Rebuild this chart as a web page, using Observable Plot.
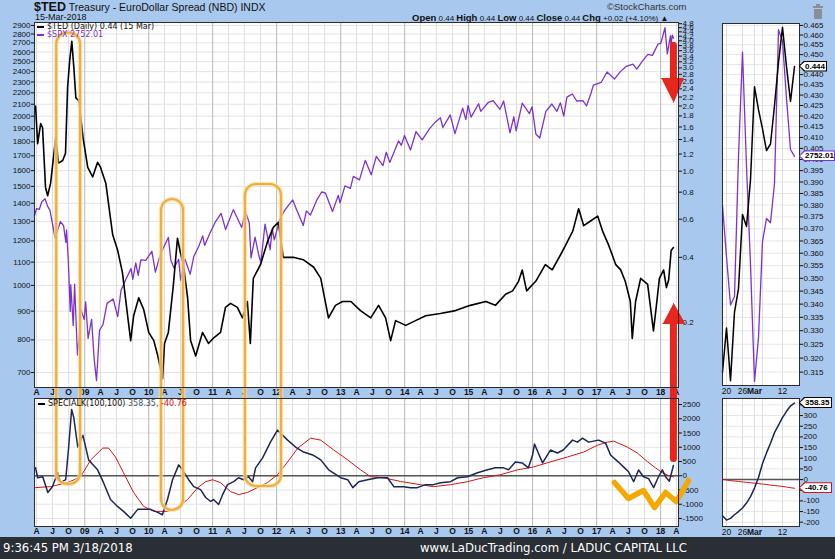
<!DOCTYPE html>
<html><head><meta charset="utf-8">
<script src="https://cdn.jsdelivr.net/npm/d3@7"></script>
<script src="https://cdn.jsdelivr.net/npm/@observablehq/plot@0.6"></script>
<style>
body{margin:0;background:#a9c8ee;}
#root{position:relative;width:835px;height:559px;background:#a9c8ee;overflow:hidden;font-family:"Liberation Sans",Arial,sans-serif;color:#111;}
#root svg{position:absolute;left:0;overflow:hidden;background:transparent;}
.abs{position:absolute;white-space:nowrap;}
.leg{font-family:"DejaVu Sans",Verdana,sans-serif;font-size:8px;}
.dash{display:inline-block;width:7px;height:2px;vertical-align:middle;margin-right:3px;}
.tag{position:absolute;left:799px;height:11px;clip-path:polygon(0 50%,5px 0,100% 0,100% 100%,5px 100%);}
.tag span{position:absolute;left:1px;top:1px;right:1px;bottom:1px;background:#fff;clip-path:polygon(0 50%,5px 0,100% 0,100% 100%,5px 100%);font:bold 8px "Liberation Sans",Arial,sans-serif;line-height:9px;padding-left:5px;color:#000;white-space:nowrap;}
#footer{position:absolute;left:0;top:537px;width:835px;height:22px;background:#2a2e35;color:#fff;font-family:"Liberation Sans Narrow","DejaVu Sans Condensed",Arial,sans-serif;}
</style></head><body><div id="root"></div>
<script>
const parse = d3.utcParse("%Y-%m-%d");

// ---------- data ----------
const tedName = "$TED", tedLast = 0.44, spxLast = 2752.01, kLast = 358.35, sigLast = -40.76;

const ted = [["2008-03-26",2.00],["2008-04-07",1.34],["2008-04-24",1.66],["2008-05-05",1.59],["2008-05-22",0.84],["2008-06-03",0.77],["2008-06-20",0.88],["2008-07-19",1.43],["2008-08-04",1.09],["2008-08-28",1.12],["2008-09-13",1.21],["2008-09-25",2.44],["2008-10-07",3.25],["2008-10-19",3.98],["2008-10-31",2.98],["2008-11-11",2.18],["2008-11-29",2.11],["2008-12-22",1.43],["2009-01-18",1.04],["2009-02-15",0.94],["2009-03-15",1.10],["2009-04-01",1.04],["2009-05-01",0.88],["2009-06-09",0.51],["2009-07-08",0.43],["2009-08-04",0.34],["2009-09-01",0.22],["2009-09-20",0.165],["2009-10-07",0.215],["2009-11-05",0.26],["2009-12-03",0.23],["2010-01-01",0.18],["2010-01-30",0.165],["2010-02-22",0.14],["2010-03-21",0.11],["2010-04-01",0.16],["2010-04-23",0.18],["2010-05-22",0.30],["2010-06-14",0.49],["2010-07-01",0.42],["2010-07-18",0.37],["2010-08-11",0.26],["2010-08-28",0.165],["2010-09-26",0.14],["2010-11-04",0.18],["2010-12-08",0.16],["2011-01-07",0.17],["2011-02-15",0.18],["2011-03-15",0.235],["2011-04-13",0.245],["2011-05-22",0.235],["2011-06-20",0.21],["2011-07-18",0.25],["2011-08-04",0.16],["2011-08-21",0.32],["2011-10-01",0.37],["2011-11-09",0.47],["2011-12-13",0.55],["2012-01-11",0.58],["2012-02-08",0.40],["2012-04-05",0.40],["2012-06-01",0.39],["2012-07-31",0.36],["2012-09-09",0.32],["2012-10-23",0.21],["2012-12-02",0.24],["2013-01-11",0.25],["2013-02-28",0.25],["2013-04-24",0.227],["2013-06-21",0.21],["2013-08-05",0.24],["2013-09-14",0.21],["2013-10-13",0.165],["2013-11-10",0.204],["2014-01-07",0.194],["2014-03-04",0.204],["2014-05-01",0.215],["2014-07-24",0.22],["2014-10-18",0.227],["2015-01-11",0.24],["2015-04-09",0.25],["2015-06-03",0.24],["2015-07-31",0.27],["2015-09-09",0.28],["2015-10-13",0.31],["2015-11-03",0.35],["2015-11-28",0.28],["2016-01-19",0.31],["2016-03-14",0.37],["2016-04-22",0.35],["2016-06-08",0.41],["2016-07-07",0.454],["2016-08-18",0.53],["2016-09-20",0.67],["2016-10-19",0.56],["2016-11-29",0.59],["2017-01-07",0.62],["2017-02-03",0.53],["2017-03-11",0.454],["2017-04-20",0.37],["2017-05-18",0.35],["2017-06-13",0.31],["2017-07-12",0.25],["2017-07-23",0.169],["2017-08-11",0.25],["2017-09-09",0.32],["2017-10-19",0.30],["2017-11-21",0.183],["2017-12-08",0.24],["2017-12-25",0.32],["2018-01-18",0.35],["2018-02-03",0.29],["2018-02-16",0.315],["2018-03-02",0.43],["2018-03-15",0.444]];

const spx = [["2008-03-20",1330],["2008-04-01",1370],["2008-04-16",1365],["2008-05-01",1409],["2008-05-19",1426],["2008-06-02",1385],["2008-06-16",1360],["2008-07-01",1285],["2008-07-15",1215],["2008-08-01",1260],["2008-08-15",1298],["2008-09-02",1277],["2008-09-15",1193],["2008-09-19",1255],["2008-09-29",1106],["2008-10-10",899],["2008-10-13",1003],["2008-10-27",848],["2008-11-04",1005],["2008-11-20",752],["2008-12-01",816],["2008-12-08",909],["2008-12-29",870],["2009-01-06",935],["2009-01-20",805],["2009-02-09",870],["2009-02-23",743],["2009-03-09",677],["2009-03-26",832],["2009-04-15",852],["2009-05-08",929],["2009-06-12",946],["2009-07-08",880],["2009-07-27",980],["2009-08-25",1028],["2009-09-22",1071],["2009-10-02",1025],["2009-10-19",1097],["2009-11-02",1042],["2009-11-17",1110],["2009-12-15",1108],["2010-01-19",1150],["2010-02-08",1056],["2010-03-01",1115],["2010-03-25",1165],["2010-04-23",1217],["2010-05-07",1110],["2010-05-25",1074],["2010-06-21",1113],["2010-07-02",1022],["2010-07-26",1115],["2010-08-26",1047],["2010-09-15",1125],["2010-10-15",1176],["2010-11-05",1225],["2010-11-16",1178],["2010-12-15",1236],["2011-01-14",1293],["2011-02-18",1343],["2011-03-16",1257],["2011-04-29",1364],["2011-05-16",1329],["2011-06-16",1268],["2011-07-07",1353],["2011-07-29",1292],["2011-08-08",1119],["2011-08-31",1219],["2011-09-22",1129],["2011-10-03",1099],["2011-10-27",1285],["2011-11-25",1158],["2011-12-07",1261],["2011-12-19",1205],["2012-01-20",1315],["2012-02-17",1361],["2012-04-02",1419],["2012-04-23",1366],["2012-06-01",1278],["2012-06-19",1357],["2012-07-12",1334],["2012-08-17",1418],["2012-09-14",1466],["2012-10-05",1461],["2012-11-15",1353],["2012-12-18",1446],["2012-12-28",1402],["2013-01-25",1503],["2013-02-25",1488],["2013-03-14",1563],["2013-04-18",1541],["2013-05-21",1669],["2013-06-24",1573],["2013-07-23",1696],["2013-08-30",1633],["2013-09-18",1725],["2013-10-08",1655],["2013-11-27",1807],["2013-12-13",1775],["2013-12-31",1848],["2014-02-03",1741],["2014-03-07",1878],["2014-04-11",1815],["2014-05-23",1900],["2014-06-24",1950],["2014-07-24",1987],["2014-08-07",1909],["2014-09-18",2011],["2014-10-15",1862],["2014-11-28",2067],["2014-12-16",1972],["2014-12-29",2090],["2015-01-15",1992],["2015-02-27",2104],["2015-03-11",2040],["2015-04-24",2117],["2015-05-21",2131],["2015-06-29",2057],["2015-07-20",2128],["2015-08-25",1867],["2015-09-16",1995],["2015-09-29",1884],["2015-11-03",2109],["2015-12-14",2021],["2015-12-29",2078],["2016-01-20",1859],["2016-02-11",1829],["2016-03-17",2040],["2016-04-20",2102],["2016-05-19",2040],["2016-06-08",2112],["2016-06-27",2001],["2016-07-15",2162],["2016-08-15",2190],["2016-09-09",2128],["2016-10-14",2132],["2016-11-04",2085],["2016-11-30",2199],["2016-12-13",2271],["2017-01-26",2296],["2017-03-01",2396],["2017-04-13",2329],["2017-05-16",2400],["2017-06-19",2453],["2017-07-27",2475],["2017-08-18",2425],["2017-09-20",2508],["2017-10-20",2575],["2017-11-15",2565],["2017-12-18",2690],["2018-01-02",2695],["2018-01-26",2873],["2018-02-08",2581],["2018-02-26",2780],["2018-03-01",2678],["2018-03-09",2787],["2018-03-16",2752]];

const specialK = [["2008-03-26",278],["2008-04-07",-70],["2008-05-06",-35],["2008-06-04",-590],["2008-07-01",-380],["2008-07-30",104],["2008-08-16",-243],["2008-09-14",-139],["2008-10-01",1007],["2008-10-18",2326],["2008-10-30",2048],["2008-11-22",1007],["2008-12-21",1424],["2009-01-23",556],["2009-03-15",208],["2009-04-18",-243],["2009-05-28",-833],["2009-07-07",-1076],["2009-08-10",-1250],["2009-09-20",-1490],["2009-10-30",-1180],["2009-12-03",-1180],["2010-01-12",-1180],["2010-02-21",-1285],["2010-03-20",-1370],["2010-04-18",-833],["2010-05-17",-139],["2010-06-21",382],["2010-07-13",208],["2010-08-17",-139],["2010-09-15",-382],["2010-10-24",-486],["2010-11-22",-764],["2010-12-21",-903],["2011-01-06",-833],["2011-02-04",-1007],["2011-02-27",-660],["2011-03-27",-312],["2011-05-01",-208],["2011-05-29",-70],["2011-06-27",-139],["2011-07-25",-35],["2011-08-17",-208],["2011-09-03",278],["2011-10-13",625],["2011-11-27",1180],["2012-01-06",1597],["2012-03-04",1250],["2012-04-18",1007],["2012-06-03",833],["2012-07-25",729],["2012-09-09",556],["2012-10-24",208],["2013-01-01",-70],["2013-02-10",-139],["2013-03-11",-417],["2013-04-14",-208],["2013-06-03",-139],["2013-07-31",-70],["2013-09-25",-70],["2013-10-31",-382],["2013-12-25",-382],["2014-02-03",-417],["2014-03-14",-417],["2014-05-01",-312],["2014-06-14",-312],["2014-07-25",-243],["2014-09-20",-208],["2014-10-30",-70],["2014-12-25",-35],["2015-02-21",104],["2015-04-19",208],["2015-06-03",278],["2015-07-19",278],["2015-08-17",208],["2015-09-25",486],["2015-11-03",451],["2015-12-08",278],["2016-01-01",729],["2016-01-12",1111],["2016-02-03",799],["2016-02-27",451],["2016-04-12",903],["2016-05-22",799],["2016-06-24",903],["2016-08-16",1250],["2016-09-13",1180],["2016-10-12",1319],["2016-11-16",1180],["2017-01-12",1250],["2017-02-21",1146],["2017-03-21",729],["2017-05-05",480],["2017-06-03",312],["2017-07-01",150],["2017-07-31",-208],["2017-08-28",200],["2017-09-25",-35],["2017-10-24",-100],["2017-11-22",-417],["2017-12-20",-35],["2018-01-11",208],["2018-01-29",-35],["2018-02-20",-190],["2018-03-15",358.35]];

const signal = [["2008-03-26",-417],["2008-06-20",-380],["2008-09-25",-243],["2008-12-08",-35],["2009-02-04",556],["2009-04-14",972],["2009-05-17",972],["2009-06-25",660],["2009-08-10",104],["2009-10-07",-590],["2009-12-03",-1076],["2010-01-30",-1250],["2010-04-18",-1250],["2010-06-14",-1111],["2010-08-11",-833],["2010-10-08",-417],["2010-11-22",-208],["2011-01-01",-139],["2011-02-15",-243],["2011-04-13",-556],["2011-05-29",-660],["2011-07-18",-590],["2011-09-13",-417],["2011-11-09",-243],["2012-01-06",35],["2012-03-04",486],["2012-05-01",972],["2012-07-13",1319],["2012-09-09",1250],["2012-11-22",903],["2013-02-10",556],["2013-04-24",208],["2013-06-21",-35],["2013-09-03",-70],["2013-12-08",-200],["2014-04-01",-312],["2014-06-14",-382],["2014-09-20",-312],["2014-12-25",-208],["2015-03-26",-70],["2015-07-01",35],["2015-10-08",208],["2016-01-08",312],["2016-04-12",486],["2016-07-19",660],["2016-10-19",833],["2017-01-07",1076],["2017-03-04",1180],["2017-04-08",1215],["2017-06-25",1007],["2017-08-21",799],["2017-10-19",486],["2017-12-03",278],["2018-01-11",104],["2018-02-15",5],["2018-03-15",-40.76]];

// side panels (last trading days, Feb 16 - Mar 15 2018)
const sideDates = ["2018-02-16","2018-02-20","2018-02-21","2018-02-22","2018-02-23","2018-02-26","2018-02-27","2018-02-28","2018-03-01","2018-03-02","2018-03-05","2018-03-06","2018-03-07","2018-03-08","2018-03-09","2018-03-12","2018-03-13","2018-03-14","2018-03-15"];
const sideTed = [0.315,0.331,0.312,0.337,0.346,0.376,0.371,0.391,0.434,0.423,0.414,0.404,0.407,0.425,0.446,0.464,0.444,0.427,0.444];
const sideSpx = [2732.22,2716.26,2701.33,2703.96,2747.30,2779.60,2744.28,2713.83,2677.67,2691.25,2720.94,2728.12,2726.80,2738.97,2786.57,2783.02,2765.31,2749.48,2747.33];
const sideK = [-170,-190,-182,-165,-150,-133,-110,-80,-40,10,75,125,170,220,255,290,320,345,358.35];
const sideSig = [1,-2,-5,-7,-9,-11,-13,-15,-17,-19,-21,-23,-26,-28,-30,-32,-35,-38,-40.76];
const sideTickIdx = [1,5,8,15];
const sideTickText = ["20","26","Mar","12"];
const sideGridIdx = [1,5,8,10,15];

// tick values
const spxTicks = [700,800,900,1000,1100,1200,1300,1400,1500,1600,1700,1800,1900,2000,2100,2200,2300,2400,2500,2600,2700,2800,2900];
const tedTicks = [0.2,0.4,0.6,0.8,1.0,1.2,1.4,1.6,1.8,2.0,2.2,2.4,2.6,2.8,3.0,3.2,3.4,3.6,3.8,4.0,4.2,4.4,4.6,4.8];
const kTicks = [-1500,-1000,-500,0,500,1000,1500,2000,2500];
const sideTedTicks = [0.315,0.32,0.325,0.33,0.335,0.34,0.345,0.35,0.355,0.36,0.365,0.37,0.375,0.38,0.385,0.39,0.395,0.4,0.405,0.41,0.415,0.42,0.425,0.43,0.435,0.44,0.445,0.45,0.455,0.46,0.465];
const sideTedHidden = [0.445];          // covered by the last-value tag in the reference
const sideKTicks = [-200,-150,-100,-50,0,50,100,150,200,250,300,350];
const sideKHidden = [350,-50];          // covered by the last-value tags in the reference
const monthInitials = ["J","F","M","A","M","J","J","A","S","O","N","D"];

// annotations (hand-drawn marks on the reference)
const boxes = [
  {start:"2008-07-25", end:"2008-12-08", tedTop:4.34, kBottom:-307},
  {start:"2010-03-15", end:"2010-07-19", tedTop:0.74, kBottom:-1219},
  {start:"2011-07-07", end:"2012-01-29", tedTop:0.868, kBottom:-377}
];
const wMark = [["2017-04-12",-237],["2017-07-01",-798],["2017-09-25",-518],["2017-11-27",-1115],["2018-01-29",-588],["2018-04-01",-904],["2018-06-09",-167]];
const downArrow = {x:"2018-03-15", shaftTop:3.82, shaftBottom:2.45, headBase:2.68, tip:2.08, left:"2018-01-06", right:"2018-05-11"};
const upArrow = {x:"2018-03-15", tip:0.245, headBase:0.198, left:"2018-01-14", right:"2018-05-18", shaftTed:0.205, shaftK:605};

// ---------- layout ----------
const W = 835;
const root = document.getElementById("root");
const xDomain = [parse("2008-03-20"), parse("2018-04-13")];
const quarterTicks = d3.utcMonth.every(3).range(parse("2008-04-01"), parse("2018-04-02"));
const qFmt = d => d.getUTCMonth() === 0 ? d3.utcFormat("%y")(d) : monthInitials[d.getUTCMonth()];
const PURPLE = "#7b33cc", NAVY = "#1b2654", RED = "#d41414", ARROW = "#e8261d", ORANGE = "#eeb03a";
const baseStyle = {background:"transparent", overflow:"hidden", fontFamily:"'Liberation Sans', Arial, sans-serif", fontSize:"8px", color:"#111"};

function mount(svg, top) {
  svg.style.position = "absolute"; svg.style.top = top + "px"; svg.style.left = "0px";
  svg.style.overflow = "hidden"; svg.style.background = "transparent";
  svg.querySelectorAll('g[aria-label^="x-axis"] text').forEach(t => { t.style.fontWeight = "bold"; t.style.fontSize = "8.5px"; });
  root.appendChild(svg);
  return svg;
}
const P = d => parse(d);
const mainDims = {width:W, height:378, marginTop:2, marginBottom:11, marginLeft:34, marginRight:157, style:baseStyle};
const lowDims = {width:W, height:141, marginTop:2, marginBottom:11, marginLeft:34, marginRight:157, style:baseStyle};
const sideUpDims = {width:W, height:378, marginTop:3, marginBottom:13, marginLeft:722, marginRight:36, style:baseStyle};
const sideLowDims = {width:W, height:141, marginTop:2, marginBottom:11, marginLeft:722, marginRight:36, style:baseStyle};
const boxStyle = {stroke:ORANGE, strokeWidth:2.2, fill:"none", rx:11};
const boxGlow = {stroke:"#f7dca6", strokeWidth:4.5, fill:"none", rx:11, strokeOpacity:0.7};

// main panel, SPX layer (bottom)
mount(Plot.plot({...mainDims,
  x:{type:"utc", domain:xDomain, axis:null},
  y:{type:"log", domain:[658.3, 2935], ticks:spxTicks, tickFormat:d => String(d), tickSize:3, tickPadding:1, label:null},
  marks:[
    Plot.frame({fill:"#fff", stroke:"none"}),
    Plot.ruleY(spxTicks, {stroke:"#e3e3e3"}),
    Plot.ruleX(quarterTicks.filter(d => d.getUTCMonth() !== 0), {stroke:"#dedede"}),
    Plot.ruleX(quarterTicks.filter(d => d.getUTCMonth() === 0), {stroke:"#b8b8b8"}),
    Plot.line(spx, {x:d => P(d[0]), y:d => d[1], stroke:PURPLE, strokeWidth:1.3})
  ]}), 20);

// main panel, TED layer (top) + annotations
mount(Plot.plot({...mainDims,
  x:{type:"utc", domain:xDomain, ticks:quarterTicks, tickFormat:qFmt, tickSize:0, tickPadding:1, label:null},
  y:{type:"log", domain:[0.1002, 4.86], ticks:tedTicks, tickFormat:d3.format(".1f"), axis:"right", tickSize:3, tickPadding:1, label:null},
  marks:[
    Plot.line(ted, {x:d => P(d[0]), y:d => d[1], stroke:"#000", strokeWidth:1.6}),
    Plot.rect(boxes, {x1:d => P(d.start), x2:d => P(d.end), y1:d => d.tedTop, y2:() => 0.005, ...boxGlow}),
    Plot.rect(boxes, {x1:d => P(d.start), x2:d => P(d.end), y1:d => d.tedTop, y2:() => 0.005, ...boxStyle}),
    Plot.line([[downArrow.x, downArrow.shaftTop],[downArrow.x, downArrow.shaftBottom]], {x:d => P(d[0]), y:d => d[1], stroke:ARROW, strokeWidth:7, strokeLinecap:"round"}),
    Plot.line([[downArrow.left, downArrow.headBase],[downArrow.right, downArrow.headBase],[downArrow.x, downArrow.tip]], {x:d => P(d[0]), y:d => d[1], fill:ARROW, stroke:ARROW, strokeWidth:1, strokeLinejoin:"round"}),
    Plot.line([[upArrow.x, upArrow.shaftTed],[upArrow.x, 0.005]], {x:d => P(d[0]), y:d => d[1], stroke:ARROW, strokeWidth:7}),
    Plot.line([[upArrow.left, upArrow.headBase],[upArrow.right, upArrow.headBase],[upArrow.x, upArrow.tip]], {x:d => P(d[0]), y:d => d[1], fill:ARROW, stroke:ARROW, strokeWidth:1, strokeLinejoin:"round"}),
    Plot.frame({stroke:"#2b2b2b"})
  ]}), 20);

// lower panel: SpecialK
mount(Plot.plot({...lowDims,
  x:{type:"utc", domain:xDomain, ticks:quarterTicks, tickFormat:qFmt, tickSize:0, tickPadding:1, label:null},
  y:{domain:[-1781, 2711], ticks:kTicks, tickFormat:d => String(d), axis:"right", tickSize:3, tickPadding:1, label:null},
  marks:[
    Plot.frame({fill:"#fff", stroke:"none"}),
    Plot.ruleY(kTicks, {stroke:"#e3e3e3"}),
    Plot.ruleX(quarterTicks.filter(d => d.getUTCMonth() !== 0), {stroke:"#dedede"}),
    Plot.ruleX(quarterTicks.filter(d => d.getUTCMonth() === 0), {stroke:"#b8b8b8"}),
    Plot.ruleY([0], {stroke:"#555", strokeWidth:1.5}),
    Plot.line(signal, {x:d => P(d[0]), y:d => d[1], stroke:RED, strokeWidth:1}),
    Plot.line(specialK, {x:d => P(d[0]), y:d => d[1], stroke:NAVY, strokeWidth:1.5}),
    Plot.rect(boxes, {x1:d => P(d.start), x2:d => P(d.end), y1:d => d.kBottom, y2:() => 12000, ...boxGlow}),
    Plot.rect(boxes, {x1:d => P(d.start), x2:d => P(d.end), y1:d => d.kBottom, y2:() => 12000, ...boxStyle}),
    Plot.line(wMark, {x:d => P(d[0]), y:d => d[1], stroke:"#f4a800", strokeWidth:5.5, strokeLinecap:"round", strokeLinejoin:"round"}),
    Plot.line([[upArrow.x, upArrow.shaftK],[upArrow.x, 12000]], {x:d => P(d[0]), y:d => d[1], stroke:ARROW, strokeWidth:7, strokeLinecap:"round"}),
    Plot.frame({stroke:"#2b2b2b"})
  ]}), 396);

// side upper: TED grid base, SPX line, TED line on top
const sideX = {domain:[0, 19.25], ticks:sideTickIdx, tickFormat:d => sideTickText[sideTickIdx.indexOf(d)], tickSize:0, tickPadding:2, label:null};
const sideTedY = {type:"log", domain:[0.3103, 0.466], ticks:sideTedTicks, tickFormat:d => sideTedHidden.includes(d) ? "" : d3.format(".3f")(d), axis:"right", tickSize:3, tickPadding:1, label:null};
const sideTedSvg = mount(Plot.plot({...sideUpDims,
  x:sideX, y:sideTedY,
  marks:[
    Plot.frame({fill:"#fff", stroke:"none"}),
    Plot.ruleY(sideTedTicks, {stroke:"#e6e6e6"}),
    Plot.ruleX(sideGridIdx, {stroke:"#dedede"})
  ]}), 20);
const sideSpxSvg = mount(Plot.plot({...sideUpDims,
  x:{...sideX, axis:null},
  y:{domain:[2676.4, 2788.5], axis:null},
  marks:[
    Plot.line(sideSpx, {x:(d,i) => i, y:d => d, stroke:PURPLE, strokeWidth:1.3})
  ]}), 20);
mount(Plot.plot({...sideUpDims,
  x:{...sideX, axis:null}, y:{...sideTedY, axis:null},
  marks:[
    Plot.line(sideTed, {x:(d,i) => i, y:d => d, stroke:"#000", strokeWidth:1.5}),
    Plot.frame({stroke:"#2b2b2b"})
  ]}), 20);
// side lower
const sideKSvg = mount(Plot.plot({...sideLowDims,
  x:sideX,
  y:{domain:[-220, 380], ticks:sideKTicks, tickFormat:d => sideKHidden.includes(d) ? "" : String(d), axis:"right", tickSize:3, tickPadding:1, label:null},
  marks:[
    Plot.frame({fill:"#fff", stroke:"none"}),
    Plot.ruleY(sideKTicks, {stroke:"#e6e6e6"}),
    Plot.ruleX(sideGridIdx, {stroke:"#dedede"}),
    Plot.ruleY([0], {stroke:"#555", strokeWidth:1.5}),
    Plot.line(sideSig, {x:(d,i) => i, y:d => d, stroke:RED, strokeWidth:1}),
    Plot.line(sideK, {x:(d,i) => i, y:d => d, stroke:NAVY, strokeWidth:1.5}),
    Plot.frame({stroke:"#2b2b2b"})
  ]}), 396);
[sideTedSvg, sideKSvg].forEach(s => s.querySelectorAll('g[aria-label^="x-axis"] text').forEach(t => { t.style.fontWeight = t.textContent === "Mar" ? "900" : "normal"; }));

// ---------- tags ----------
function yAt(svg, v) {
  const s = svg.scale("y");
  if (s.apply) return s.apply(v);
  const f = s.type === "log" ? d3.scaleLog() : d3.scaleLinear();
  return f.domain(s.domain).range(s.range)(v);
}
const tags = [
  {svg:sideTedSvg, top:20, v:sideTed[sideTed.length-1], text:d3.format(".3f")(sideTed[sideTed.length-1]), color:"#000", w:28},
  {svg:sideSpxSvg, top:20, v:sideSpx[sideSpx.length-1], text:String(spxLast), color:PURPLE, w:36},
  {svg:sideKSvg, top:396, v:kLast, text:String(kLast), color:"#000", w:33},
  {svg:sideKSvg, top:396, v:sigLast, text:String(sigLast), color:RED, w:33}
];
tags.forEach(t => {
  const y = t.top + yAt(t.svg, t.v);
  const d = document.createElement("div");
  d.className = "tag"; d.style.top = (y - 5.5) + "px"; d.style.width = t.w + "px"; d.style.background = t.color;
  const s = document.createElement("span"); s.textContent = t.text; d.appendChild(s);
  root.appendChild(d);
});

// ---------- texts ----------
function addDiv(html, style) { const d = document.createElement("div"); d.className = "abs"; d.style.cssText = style; d.innerHTML = html; root.appendChild(d); return d; }
addDiv(`<b style="font-size:12.5px">${tedName}</b> Treasury - EuroDollar Spread (NBD) INDX`, "left:34px;top:0px;font-size:10.5px;");
addDiv("15-Mar-2018", "left:35px;top:12px;font-size:9px;");
addDiv("&copy;StockCharts.com", "left:607px;top:1px;font-size:9.5px;color:#333;");
addDiv(`<b style="font-size:9.5px">Open</b> ${tedLast.toFixed(2)} <b style="font-size:9.5px">High</b> ${tedLast.toFixed(2)} <b style="font-size:9.5px">Low</b> ${tedLast.toFixed(2)} <b style="font-size:9.5px">Close</b> ${tedLast.toFixed(2)} <b style="font-size:9.5px">Chg</b> +0.02 (+4.10%) &#9650;`, "left:412px;top:12px;font-size:8px;");
addDiv(`<span class="dash" style="background:#000"></span>${tedName} (Daily) ${tedLast.toFixed(2)} (15 Mar)`, "left:37px;top:22px;").classList.add("leg");
addDiv(`<span class="dash" style="background:${PURPLE}"></span>$SPX ${spxLast}`, `left:37px;top:30px;color:${PURPLE};`).classList.add("leg");
addDiv(`<span class="dash" style="background:#000"></span>SPECIALK(100,100) <span style="color:#4a5568">${kLast},</span> <span style="color:${RED}">${sigLast}</span>`, "left:38px;top:399px;").classList.add("leg");
// trash icon
addDiv("", "left:813px;top:6px;width:10px;height:2px;background:#8a8f96;");
addDiv("", "left:816px;top:4px;width:4px;height:2px;background:#8a8f96;");
addDiv("", "left:814px;top:9px;width:8px;height:10px;background:#8a8f96;border-radius:0 0 1px 1px;");

const footer = document.createElement("div"); footer.id = "footer";
footer.innerHTML = `<div class="abs" style="left:3px;top:3px;font-size:13px;">9:36:45 PM 3/18/2018</div><div class="abs" style="left:420px;top:3px;font-size:13px;">www.LaDucTrading.com / LADUC CAPITAL LLC</div>`;
root.appendChild(footer);
</script></body></html>
